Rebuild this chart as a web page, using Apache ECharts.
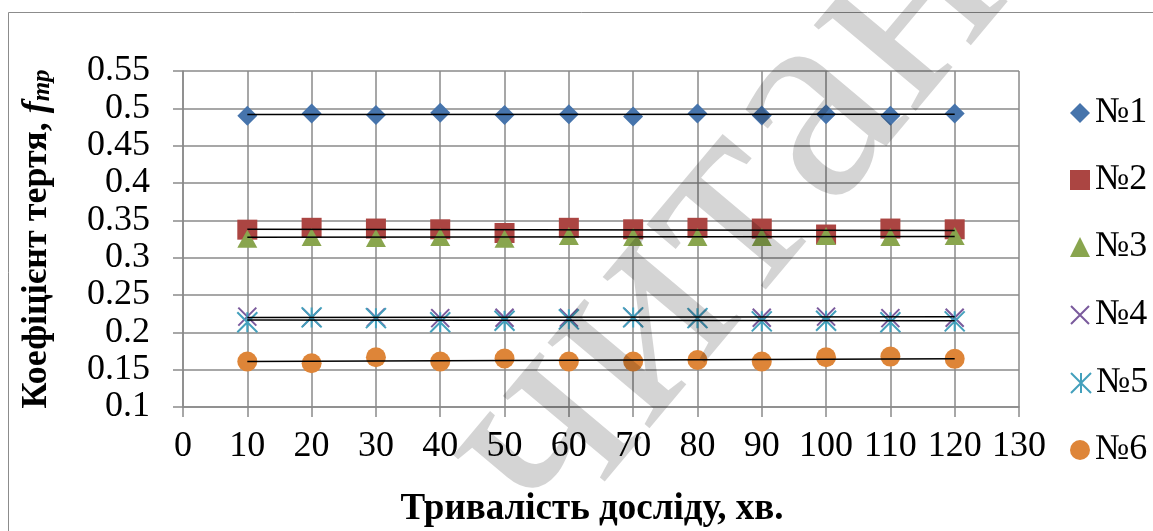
<!DOCTYPE html>
<html>
<head>
<meta charset="utf-8">
<script src="https://cdn.jsdelivr.net/npm/echarts@6/dist/echarts.min.js"></script>
<style>
html,body{margin:0;padding:0;background:#fff;}
#chart{width:1153px;height:531px;}
</style>
</head>
<body>
<div id="chart"></div>
<script>
// ---- data ----
const xValues = [10, 20, 30, 40, 50, 60, 70, 80, 90, 100, 110, 120];
const seriesNames = ['№1', '№2', '№3', '№4', '№5', '№6'];
const s1 = [0.490, 0.493, 0.491, 0.494, 0.491, 0.492, 0.489, 0.493, 0.4905, 0.492, 0.490, 0.493];
const s2 = [0.3375, 0.340, 0.339, 0.338, 0.333, 0.340, 0.338, 0.340, 0.339, 0.331, 0.339, 0.338];
const s3 = [0.3255, 0.3277, 0.3265, 0.3277, 0.3255, 0.329, 0.3277, 0.3277, 0.3277, 0.329, 0.3277, 0.329];
const s4 = [0.221, 0.220, 0.220, 0.219, 0.2196, 0.2196, 0.220, 0.219, 0.2196, 0.221, 0.219, 0.2196];
const s5 = [0.2134, 0.220, 0.219, 0.2134, 0.2156, 0.2174, 0.220, 0.219, 0.2147, 0.2156, 0.2134, 0.2147];
const s6 = [0.161, 0.1586, 0.1666, 0.161, 0.165, 0.161, 0.161, 0.163, 0.161, 0.1666, 0.1675, 0.1645];
// trend line end values (at x = 10 and x = 120)
const trendX = [10, 120];
const trend1 = [0.4916, 0.4920];
const trend2 = [0.3380, 0.3365];
const trend3 = [0.3275, 0.3285];
const trend4 = [0.2200, 0.2210];
const trend5 = [0.2165, 0.2156];
const trend6 = [0.1610, 0.1645];
const yTicks = {min: 0.1, max: 0.55, interval: 0.05};
const xTicks = {min: 0, max: 130, interval: 10};
const xTitle = 'Тривалість досліду, хв.';
const watermark = 'читання';

// ---- styles ----
const serif = '"Liberation Serif", "Times New Roman", serif';
const colors = ['#4674AC', '#AB4542', '#89A54E', '#7A5A9C', '#43A0BC', '#DE8538'];
const pathX = 'path://M0,0L10,10M0,10L10,0';
const pathStar = 'path://M0,0L10,10M0,10L10,0M5,0L5,10';
const symbols = ['diamond', 'rect', 'triangle', pathX, pathStar, 'circle'];
const sizes = [[20, 20], [20, 20], [20, 18], [18, 18], [20, 20], [20, 20]];
const values = [s1, s2, s3, s4, s5, s6];
const trends = [trend1, trend2, trend3, trend4, trend5, trend6];

const series = [];
values.forEach((vals, i) => {
  const lineSym = (i === 3 || i === 4);
  series.push({
    name: seriesNames[i],
    type: 'scatter',
    data: xValues.map((x, k) => [x, vals[k]]),
    symbol: symbols[i],
    symbolSize: sizes[i],
    itemStyle: lineSym
      ? {color: colors[i], borderColor: colors[i], borderWidth: 2, opacity: 1}
      : {color: colors[i], opacity: 1},
    z: 3,
    emphasis: {disabled: true}
  });
});
trends.forEach((t, i) => {
  series.push({
    name: 'trend' + (i + 1),
    type: 'line',
    data: trendX.map((x, k) => [x, t[k]]),
    showSymbol: false,
    symbol: 'none',
    lineStyle: {color: '#000', width: 1.5},
    z: 4,
    silent: true
  });
});

const legendCenters = [113, 180, 247, 315, 383, 450];
const legends = seriesNames.map((n, i) => ({
  data: [{name: n, icon: symbols[i]}],
  orient: 'vertical',
  left: 1070,
  top: legendCenters[i] - 18,
  itemWidth: 20,
  itemHeight: i === 3 ? 18 : 20,
  itemGap: 8,
  padding: 0,
  selectedMode: false,
  textStyle: {fontFamily: serif, fontSize: 36, color: '#000', padding: [0, 0, 0, 0]}
}));

const chart = echarts.init(document.getElementById('chart'), null, {renderer: 'canvas'});
chart.setOption({
  animation: false,
  backgroundColor: '#fff',
  grid: {left: 183, right: 134, top: 71, bottom: 124, containLabel: false},
  legend: legends,
  xAxis: {
    type: 'value',
    min: xTicks.min, max: xTicks.max, interval: xTicks.interval,
    axisLine: {show: true, onZero: false, lineStyle: {color: '#8a8a8a', width: 1.5}},
    axisTick: {show: true, inside: false, length: 10, lineStyle: {color: '#8a8a8a', width: 1.5}},
    splitLine: {show: true, lineStyle: {color: '#8a8a8a', width: 1.5}},
    axisLabel: {fontFamily: serif, fontSize: 36, color: '#000', margin: 22}
  },
  yAxis: {
    type: 'value',
    min: yTicks.min, max: yTicks.max, interval: yTicks.interval,
    axisLine: {show: true, onZero: false, lineStyle: {color: '#8a8a8a', width: 1.5}},
    axisTick: {show: true, inside: false, length: 10, lineStyle: {color: '#8a8a8a', width: 1.5}},
    splitLine: {show: true, lineStyle: {color: '#8a8a8a', width: 1.5}},
    axisLabel: {fontFamily: serif, fontSize: 36, color: '#000', margin: 33,
      formatter: v => String(+v.toFixed(2))},
    name: '{b|Коефіцієнт тертя, }{i|f}{s|тр}',
    nameLocation: 'middle',
    nameGap: 128,
    nameRotate: 90,
    nameTextStyle: {
      rich: {
        b: {fontFamily: serif, fontWeight: 'bold', fontSize: 36, color: '#000'},
        i: {fontFamily: serif, fontWeight: 'bold', fontStyle: 'italic', fontSize: 36, color: '#000'},
        s: {fontFamily: serif, fontWeight: 'bold', fontStyle: 'italic', fontSize: 25, color: '#000', verticalAlign: 'bottom'}
      }
    }
  },
  graphic: [
    {type: 'rect', silent: true, z: -1,
      shape: {x: 8.5, y: 12.5, width: 1200, height: 600},
      style: {fill: 'none', stroke: '#8c8c8c', lineWidth: 1}},
    {type: 'text', silent: true, x: 592, y: 509, z: 5,
      style: {text: xTitle, font: 'bold 37px ' + serif, fill: '#000', textAlign: 'center', textVerticalAlign: 'middle'}},
    {type: 'text', silent: true, x: 494, y: 495, z: 100,
      rotation: 50 * Math.PI / 180,
      style: {text: watermark, font: '290px ' + serif, fill: 'rgba(0,0,0,0.17)', textAlign: 'left', textVerticalAlign: 'middle'}}
  ],
  series: series
});
</script>
</body>
</html>
